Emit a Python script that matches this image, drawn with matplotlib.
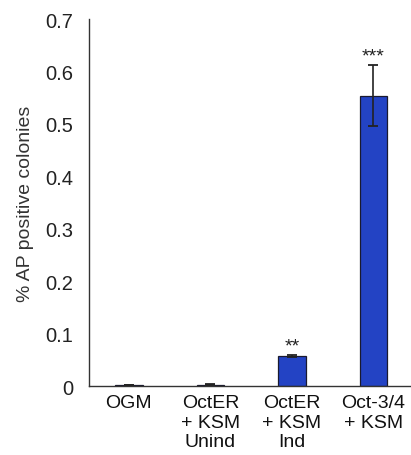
import matplotlib
matplotlib.use("Agg")
import matplotlib.pyplot as plt

plt.rcParams['font.family'] = ['Liberation Sans', 'DejaVu Sans']

categories = ["OGM", "OctER\n+ KSM\nUnind", "OctER\n+ KSM\nInd", "Oct-3/4\n+ KSM"]
values = [0.001, 0.002, 0.057, 0.554]
errors = [0.0, 0.001, 0.002, 0.058]
stars = ["", "", "**", "***"]

fig = plt.figure(figsize=(4.11, 4.56), dpi=100)
ax = fig.add_axes([0.2165, 0.1513, 0.7815, 0.8047])

x = list(range(len(categories)))
ax.bar(x, values, width=0.34, color="#2343C4", edgecolor="#1a1a2e", linewidth=0.9,
       yerr=errors, error_kw=dict(ecolor="#222222", elinewidth=1.2, capsize=3.8, capthick=1.3))

for xi, v, e, s in zip(x, values, errors, stars):
    if s:
        ax.text(xi, v + e + 0.002, s, ha="center", va="bottom", fontsize=14, color="#222222")

ax.set_xlim(-0.49, 3.45)
ax.set_ylim(0, 0.7)
ax.set_yticks([0, 0.1, 0.2, 0.3, 0.4, 0.5, 0.6, 0.7])
ax.set_yticklabels(["0", "0.1", "0.2", "0.3", "0.4", "0.5", "0.6", "0.7"])
ax.set_xticks(x)
ax.set_xticklabels(categories, linespacing=1.17)
ax.tick_params(axis="y", length=0, pad=11.5, labelsize=14.5, labelcolor="#222222")
ax.tick_params(axis="x", length=0, pad=6, labelsize=14, labelcolor="#111111")
ax.set_ylabel("% AP positive colonies", fontsize=14, color="#333333", labelpad=8)

for side in ("top", "right"):
    ax.spines[side].set_visible(False)
for side in ("left", "bottom"):
    ax.spines[side].set_color("#333333")
    ax.spines[side].set_linewidth(1.0)

fig.savefig("out.png", dpi=100)
